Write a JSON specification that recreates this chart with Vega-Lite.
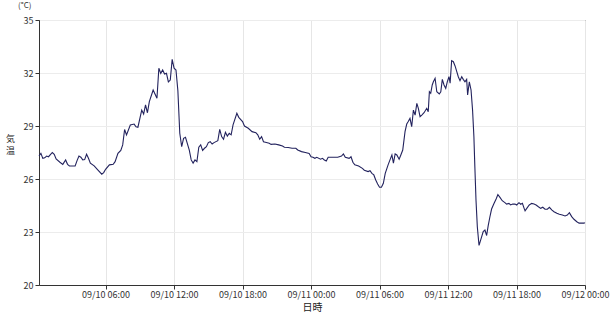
{
"$schema": "https://vega.github.io/schema/vega-lite/v6.json",
"width": 546, "height": 265,
"autosize": {"type": "none"},
"padding": {"left": 39, "top": 20, "right": 25, "bottom": 29},
"background": "white",
"config": {"font": "Noto Sans CJK JP", "view": {"stroke": "#333", "strokeWidth": 1}},
"title": {"text": "(°C)", "anchor": "start", "frame": "group", "dx": -21, "dy": -6, "offset": 0, "fontSize": 8, "fontWeight": "normal", "color": "#333"},
"data": {"values": [
{"t":"2023-09-10T00:10","v":27.3},{"t":"2023-09-10T00:20","v":27.45},{"t":"2023-09-10T00:30","v":27.17},{"t":"2023-09-10T00:40","v":27.2},{"t":"2023-09-10T00:50","v":27.3},{"t":"2023-09-10T01:00","v":27.26},{"t":"2023-09-10T01:20","v":27.5},{"t":"2023-09-10T01:30","v":27.4},{"t":"2023-09-10T01:40","v":27.13},{"t":"2023-09-10T02:00","v":26.95},{"t":"2023-09-10T02:15","v":26.83},{"t":"2023-09-10T02:30","v":27.08},{"t":"2023-09-10T02:40","v":26.83},{"t":"2023-09-10T02:50","v":26.74},{"t":"2023-09-10T03:20","v":26.74},{"t":"2023-09-10T03:30","v":27.04},{"t":"2023-09-10T03:40","v":27.3},{"t":"2023-09-10T03:50","v":27.23},{"t":"2023-09-10T04:00","v":27.08},{"t":"2023-09-10T04:10","v":27.1},{"t":"2023-09-10T04:20","v":27.4},{"t":"2023-09-10T04:30","v":27.17},{"t":"2023-09-10T04:40","v":26.9},{"t":"2023-09-10T05:00","v":26.74},{"t":"2023-09-10T05:20","v":26.5},{"t":"2023-09-10T05:40","v":26.27},{"t":"2023-09-10T05:50","v":26.36},{"t":"2023-09-10T06:00","v":26.55},{"t":"2023-09-10T06:20","v":26.8},{"t":"2023-09-10T06:40","v":26.83},{"t":"2023-09-10T06:50","v":26.98},{"t":"2023-09-10T07:05","v":27.45},{"t":"2023-09-10T07:20","v":27.62},{"t":"2023-09-10T07:30","v":27.93},{"t":"2023-09-10T07:40","v":28.8},{"t":"2023-09-10T07:50","v":28.5},{"t":"2023-09-10T08:10","v":29.06},{"t":"2023-09-10T08:30","v":29.11},{"t":"2023-09-10T08:40","v":28.96},{"t":"2023-09-10T08:50","v":28.93},{"t":"2023-09-10T09:10","v":29.9},{"t":"2023-09-10T09:20","v":29.68},{"t":"2023-09-10T09:30","v":30.19},{"t":"2023-09-10T09:40","v":29.75},{"t":"2023-09-10T09:50","v":30.38},{"t":"2023-09-10T10:10","v":31.04},{"t":"2023-09-10T10:30","v":30.57},{"t":"2023-09-10T10:40","v":32.27},{"t":"2023-09-10T10:50","v":31.98},{"t":"2023-09-10T11:00","v":32.17},{"t":"2023-09-10T11:10","v":31.94},{"t":"2023-09-10T11:20","v":31.98},{"t":"2023-09-10T11:30","v":31.5},{"t":"2023-09-10T11:40","v":31.6},{"t":"2023-09-10T11:50","v":32.77},{"t":"2023-09-10T12:00","v":32.27},{"t":"2023-09-10T12:10","v":32.17},{"t":"2023-09-10T12:20","v":31.0},{"t":"2023-09-10T12:30","v":28.59},{"t":"2023-09-10T12:40","v":27.83},{"t":"2023-09-10T12:50","v":28.3},{"t":"2023-09-10T13:00","v":28.36},{"t":"2023-09-10T13:20","v":27.64},{"t":"2023-09-10T13:30","v":27.08},{"t":"2023-09-10T13:40","v":26.9},{"t":"2023-09-10T13:50","v":27.08},{"t":"2023-09-10T14:00","v":26.98},{"t":"2023-09-10T14:10","v":27.8},{"t":"2023-09-10T14:20","v":27.93},{"t":"2023-09-10T14:30","v":27.62},{"t":"2023-09-10T14:40","v":27.74},{"t":"2023-09-10T14:50","v":27.83},{"t":"2023-09-10T15:00","v":28.06},{"t":"2023-09-10T15:10","v":28.11},{"t":"2023-09-10T15:20","v":27.98},{"t":"2023-09-10T15:30","v":28.06},{"t":"2023-09-10T15:50","v":28.17},{"t":"2023-09-10T16:00","v":28.81},{"t":"2023-09-10T16:10","v":28.4},{"t":"2023-09-10T16:20","v":28.25},{"t":"2023-09-10T16:30","v":28.64},{"t":"2023-09-10T16:40","v":28.43},{"t":"2023-09-10T16:50","v":28.59},{"t":"2023-09-10T17:00","v":28.5},{"t":"2023-09-10T17:10","v":29.06},{"t":"2023-09-10T17:30","v":29.72},{"t":"2023-09-10T17:40","v":29.49},{"t":"2023-09-10T18:00","v":29.25},{"t":"2023-09-10T18:10","v":29.0},{"t":"2023-09-10T18:30","v":28.87},{"t":"2023-09-10T18:50","v":28.68},{"t":"2023-09-10T19:10","v":28.62},{"t":"2023-09-10T19:20","v":28.5},{"t":"2023-09-10T19:30","v":28.25},{"t":"2023-09-10T19:40","v":28.4},{"t":"2023-09-10T19:50","v":28.11},{"t":"2023-09-10T20:00","v":28.08},{"t":"2023-09-10T20:20","v":28.02},{"t":"2023-09-10T20:30","v":27.96},{"t":"2023-09-10T20:50","v":27.98},{"t":"2023-09-10T21:10","v":27.93},{"t":"2023-09-10T21:30","v":27.87},{"t":"2023-09-10T21:40","v":27.8},{"t":"2023-09-10T22:00","v":27.78},{"t":"2023-09-10T22:20","v":27.74},{"t":"2023-09-10T22:40","v":27.74},{"t":"2023-09-10T22:50","v":27.64},{"t":"2023-09-10T23:10","v":27.55},{"t":"2023-09-10T23:30","v":27.5},{"t":"2023-09-10T23:50","v":27.45},
{"t":"2023-09-11T00:00","v":27.26},{"t":"2023-09-11T00:10","v":27.23},{"t":"2023-09-11T00:20","v":27.17},{"t":"2023-09-11T00:30","v":27.23},{"t":"2023-09-11T00:50","v":27.12},{"t":"2023-09-11T01:00","v":27.17},{"t":"2023-09-11T01:10","v":27.08},{"t":"2023-09-11T01:20","v":27.02},{"t":"2023-09-11T01:30","v":27.23},{"t":"2023-09-11T02:00","v":27.23},{"t":"2023-09-11T02:20","v":27.23},{"t":"2023-09-11T02:40","v":27.3},{"t":"2023-09-11T02:50","v":27.42},{"t":"2023-09-11T03:00","v":27.23},{"t":"2023-09-11T03:20","v":27.17},{"t":"2023-09-11T03:30","v":27.26},{"t":"2023-09-11T03:40","v":26.95},{"t":"2023-09-11T03:50","v":26.8},{"t":"2023-09-11T04:10","v":26.74},{"t":"2023-09-11T04:30","v":26.6},{"t":"2023-09-11T04:40","v":26.5},{"t":"2023-09-11T05:00","v":26.42},{"t":"2023-09-11T05:10","v":26.47},{"t":"2023-09-11T05:20","v":26.32},{"t":"2023-09-11T05:30","v":26.23},{"t":"2023-09-11T05:40","v":25.94},{"t":"2023-09-11T05:50","v":25.72},{"t":"2023-09-11T06:00","v":25.53},{"t":"2023-09-11T06:10","v":25.53},{"t":"2023-09-11T06:20","v":25.76},{"t":"2023-09-11T06:30","v":26.32},{"t":"2023-09-11T06:45","v":26.8},{"t":"2023-09-11T06:58","v":27.17},{"t":"2023-09-11T07:05","v":27.36},{"t":"2023-09-11T07:13","v":26.9},{"t":"2023-09-11T07:22","v":27.42},{"t":"2023-09-11T07:31","v":27.36},{"t":"2023-09-11T07:43","v":27.12},{"t":"2023-09-11T07:52","v":27.36},{"t":"2023-09-11T08:02","v":27.64},{"t":"2023-09-11T08:14","v":28.68},{"t":"2023-09-11T08:23","v":29.11},{"t":"2023-09-11T08:31","v":29.25},{"t":"2023-09-11T08:40","v":29.43},{"t":"2023-09-11T08:49","v":28.96},{"t":"2023-09-11T08:58","v":29.9},{"t":"2023-09-11T09:07","v":29.62},{"t":"2023-09-11T09:16","v":30.28},{"t":"2023-09-11T09:24","v":30.0},{"t":"2023-09-11T09:33","v":29.53},{"t":"2023-09-11T09:42","v":29.62},{"t":"2023-09-11T09:54","v":29.75},{"t":"2023-09-11T10:08","v":30.0},{"t":"2023-09-11T10:16","v":29.81},{"t":"2023-09-11T10:22","v":30.94},{"t":"2023-09-11T10:29","v":30.85},{"t":"2023-09-11T10:37","v":31.32},{"t":"2023-09-11T10:43","v":31.5},{"t":"2023-09-11T10:52","v":31.7},{"t":"2023-09-11T11:01","v":30.94},{"t":"2023-09-11T11:14","v":30.81},{"t":"2023-09-11T11:22","v":30.94},{"t":"2023-09-11T11:30","v":31.64},{"t":"2023-09-11T11:39","v":31.32},{"t":"2023-09-11T11:48","v":31.13},{"t":"2023-09-11T11:56","v":31.5},{"t":"2023-09-11T12:05","v":31.79},{"t":"2023-09-11T12:11","v":31.42},{"t":"2023-09-11T12:19","v":32.7},{"t":"2023-09-11T12:28","v":32.64},{"t":"2023-09-11T12:37","v":32.4},{"t":"2023-09-11T12:46","v":32.08},{"t":"2023-09-11T12:54","v":31.79},{"t":"2023-09-11T13:03","v":31.57},{"t":"2023-09-11T13:12","v":31.79},{"t":"2023-09-11T13:20","v":31.64},{"t":"2023-09-11T13:29","v":31.5},{"t":"2023-09-11T13:38","v":31.64},{"t":"2023-09-11T13:43","v":30.76},{"t":"2023-09-11T13:52","v":31.5},{"t":"2023-09-11T14:01","v":31.04},{"t":"2023-09-11T14:09","v":29.9},{"t":"2023-09-11T14:16","v":28.4},{"t":"2023-09-11T14:21","v":26.7},{"t":"2023-09-11T14:27","v":24.81},{"t":"2023-09-11T14:34","v":23.3},{"t":"2023-09-11T14:43","v":22.24},{"t":"2023-09-11T14:53","v":22.6},{"t":"2023-09-11T15:05","v":23.02},{"t":"2023-09-11T15:14","v":23.11},{"t":"2023-09-11T15:23","v":22.8},{"t":"2023-09-11T15:31","v":23.35},{"t":"2023-09-11T15:40","v":23.85},{"t":"2023-09-11T15:49","v":24.3},{"t":"2023-09-11T16:01","v":24.6},{"t":"2023-09-11T16:14","v":24.9},{"t":"2023-09-11T16:22","v":25.12},{"t":"2023-09-11T16:33","v":24.96},{"t":"2023-09-11T16:45","v":24.77},{"t":"2023-09-11T16:59","v":24.66},{"t":"2023-09-11T17:08","v":24.58},{"t":"2023-09-11T17:20","v":24.62},{"t":"2023-09-11T17:29","v":24.53},{"t":"2023-09-11T17:40","v":24.58},{"t":"2023-09-11T17:52","v":24.58},{"t":"2023-09-11T18:01","v":24.53},{"t":"2023-09-11T18:13","v":24.66},{"t":"2023-09-11T18:22","v":24.57},{"t":"2023-09-11T18:31","v":24.62},{"t":"2023-09-11T18:40","v":24.34},{"t":"2023-09-11T18:45","v":24.2},{"t":"2023-09-11T18:54","v":24.34},{"t":"2023-09-11T19:07","v":24.53},{"t":"2023-09-11T19:20","v":24.62},{"t":"2023-09-11T19:32","v":24.58},{"t":"2023-09-11T19:43","v":24.53},{"t":"2023-09-11T19:55","v":24.43},{"t":"2023-09-11T20:07","v":24.34},{"t":"2023-09-11T20:18","v":24.4},{"t":"2023-09-11T20:30","v":24.29},{"t":"2023-09-11T20:42","v":24.29},{"t":"2023-09-11T20:53","v":24.4},{"t":"2023-09-11T21:05","v":24.25},{"t":"2023-09-11T21:17","v":24.15},{"t":"2023-09-11T21:32","v":24.06},{"t":"2023-09-11T21:45","v":24.0},{"t":"2023-09-11T22:01","v":23.96},{"t":"2023-09-11T22:15","v":23.91},{"t":"2023-09-11T22:27","v":23.96},{"t":"2023-09-11T22:38","v":24.09},{"t":"2023-09-11T22:50","v":23.87},{"t":"2023-09-11T23:02","v":23.72},{"t":"2023-09-11T23:17","v":23.58},{"t":"2023-09-11T23:29","v":23.5},{"t":"2023-09-11T23:43","v":23.5},{"t":"2023-09-11T23:55","v":23.5},{"t":"2023-09-12T00:00","v":23.53}
]},
"mark": {"type": "line", "color": "#23235e", "strokeWidth": 1.1},
"encoding": {
  "x": {"field": "t", "type": "temporal",
    "axis": {"title": "日時", "tickCount": 8, "format": "%m/%d %H:%M", "labelOverlap": false, "labelFlush": false,
      "labelFontSize": 9, "labelColor": "#333", "labelPadding": 1,
      "tickColor": "#333", "tickSize": 4,
      "domainColor": "#333",
      "gridColor": "#e6e6e6",
      "titleFontSize": 10, "titleFontWeight": "normal", "titleColor": "#222", "titlePadding": 3}},
  "y": {"field": "v", "type": "quantitative",
    "scale": {"domain": [20, 35], "nice": false, "zero": false},
    "axis": {"title": ["気", "温"], "titleAngle": 0, "titleX": -29, "titleY": 114, "titleAlign": "center", "titleBaseline": "top", "titleLineHeight": 12, "titleFontSize": 9, "titleFontWeight": "normal", "titleColor": "#222",
      "values": [20, 23, 26, 29, 32, 35],
      "labelFontSize": 9, "labelColor": "#333", "labelPadding": 2, "tickSize": 4, "tickColor": "#333", "domainColor": "#333", "gridColor": "#ececec"}}
}
}
